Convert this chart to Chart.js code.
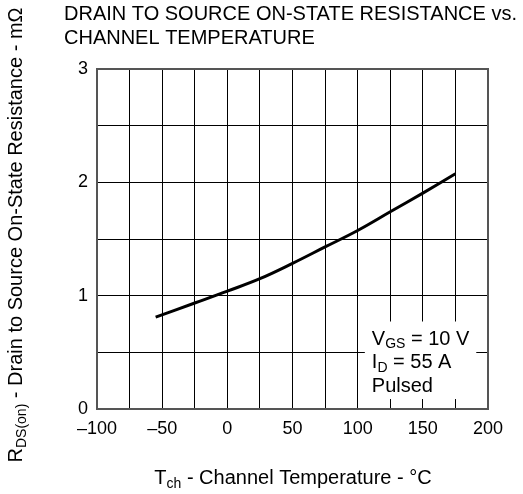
<!DOCTYPE html>
<html><head><meta charset="utf-8">
<script src="https://cdn.jsdelivr.net/npm/chart.js@4.4.1/dist/chart.umd.min.js"></script>
<style>html,body{margin:0;padding:0;background:#fff}#wrap{width:523px;height:494px}</style>
</head><body><div id="wrap"><canvas id="c" width="523" height="494"></canvas></div>
<script>
const temps = [-55, -25, 0, 25, 50, 75, 100, 125, 150, 175];
const resistance = [0.81, 0.935, 1.04, 1.15, 1.285, 1.43, 1.575, 1.74, 1.905, 2.075];
const xTicks = [-100, -50, 0, 50, 100, 150, 200];
const yTicks = [0, 1, 2, 3];
const titleLines = ['DRAIN TO SOURCE ON-STATE RESISTANCE vs.', 'CHANNEL TEMPERATURE'];
const FONT = '"Liberation Sans", Arial, sans-serif';

function drawSub(ctx, parts, x, y, size, subSize, subDrop) {
  let cx = x;
  for (const [t, sub] of parts) {
    ctx.font = (sub ? subSize : size) + 'px ' + FONT;
    ctx.fillText(t, cx, sub ? y + subDrop : y);
    cx += ctx.measureText(t).width;
  }
  return cx - x;
}
function measureParts(ctx, parts, size, subSize) {
  let w = 0;
  for (const [t, sub] of parts) { ctx.font = (sub ? subSize : size) + 'px ' + FONT; w += ctx.measureText(t).width; }
  return w;
}

const textPlugin = {
  id: 'texts',
  afterDatasetsDraw(chart) {
    const ctx = chart.ctx, xs = chart.scales.x, ys = chart.scales.y;
    ctx.save();
    const bx0 = xs.getPixelForValue(105.5), bx1 = xs.getPixelForValue(191);
    const by0 = ys.getPixelForValue(0.772), by1 = ys.getPixelForValue(0.088);
    ctx.fillStyle = '#fff';
    ctx.fillRect(bx0, by0, bx1 - bx0, by1 - by0);
    ctx.fillStyle = '#000';
    ctx.textBaseline = 'alphabetic';
    ctx.textAlign = 'left';
    const tx = bx0 + 7;
    drawSub(ctx, [['V', false], ['GS', true], [' = 10 V', false]], tx, by0 + 23, 20, 14, 3);
    drawSub(ctx, [['I', false], ['D', true], [' = 55 A', false]], tx, by0 + 46, 20, 14, 4);
    drawSub(ctx, [['Pulsed', false]], tx, by0 + 70, 20, 14, 4);
    ctx.restore();
  },
  afterDraw(chart) {
    const ctx = chart.ctx;
    ctx.save();
    ctx.fillStyle = '#000';
    ctx.textAlign = 'left';
    ctx.textBaseline = 'alphabetic';
    ctx.font = '20px ' + FONT;
    ctx.fillText(titleLines[0], 64, 20);
    ctx.fillText(titleLines[1], 64, 44);
    const xp = [['T', false], ['ch', true], [' - Channel Temperature - °C', false]];
    const xw = measureParts(ctx, xp, 20, 14);
    drawSub(ctx, xp, 293 - xw / 2, 484, 20, 14, 4);
    ctx.translate(15, 235);
    ctx.rotate(-Math.PI / 2);
    const yp = [['R', false], ['DS(on)', true], [' - Drain to Source On-State Resistance - m\u03A9', false]];
    const yw = measureParts(ctx, yp, 20, 14);
    drawSub(ctx, yp, -yw / 2, 6.5, 20, 14, 4);
    ctx.restore();
  }
};

new Chart(document.getElementById('c'), {
  type: 'line',
  data: { datasets: [{ data: temps.map((t, i) => ({ x: t, y: resistance[i] })), borderColor: '#000', borderWidth: 3, pointRadius: 0, tension: 0.4, fill: false }] },
  options: {
    responsive: false, animation: false,
    layout: { padding: { left: 0, right: 35, top: 69, bottom: 55 } },
    plugins: { legend: { display: false }, tooltip: { enabled: false }, title: { display: false } },
    scales: {
      x: {
        type: 'linear', min: -100, max: 200,
        ticks: { stepSize: 25, color: '#000', padding: 9, maxRotation: 0, autoSkip: false, font: { size: 18, family: FONT },
          callback: v => xTicks.includes(v) ? (v < 0 ? '\u2013' + Math.abs(v) : String(v)) : '' },
        grid: { color: '#000', lineWidth: 1, drawTicks: false },
        border: { color: '#555', width: 2 },
        afterFit: s => { s.height = 30; }
      },
      y: {
        type: 'linear', min: 0, max: 3,
        ticks: { stepSize: 0.5, color: '#000', padding: 9, autoSkip: false, font: { size: 18, family: FONT },
          callback: v => yTicks.includes(v) ? String(v) : '' },
        grid: { color: '#000', lineWidth: 1, drawTicks: false },
        border: { color: '#555', width: 2 },
        afterFit: s => { s.width = 97; }
      }
    }
  },
  plugins: [textPlugin, {
    id: 'frame',
    afterDatasetsDraw(chart) {
      const { ctx, chartArea: a } = chart;
      ctx.save(); ctx.strokeStyle = '#555'; ctx.lineWidth = 2;
      ctx.strokeRect(a.left, a.top, a.right - a.left, a.bottom - a.top); ctx.restore();
    }
  }]
});
</script></body></html>
